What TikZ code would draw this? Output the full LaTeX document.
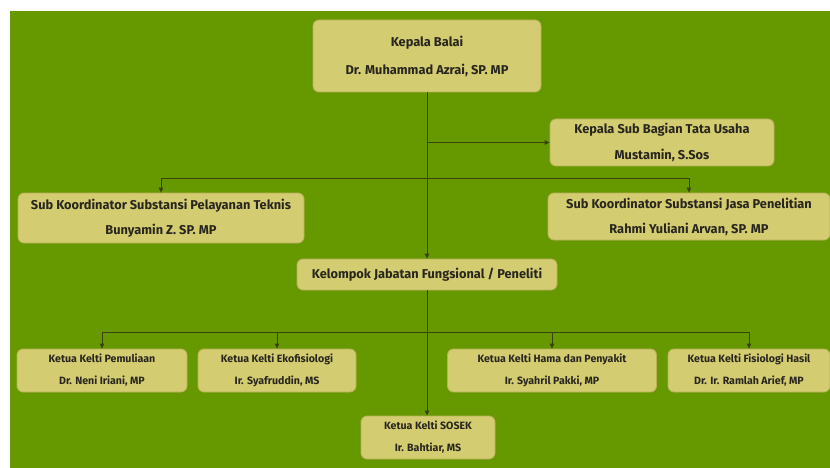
\documentclass[tikz,border=0pt]{standalone}
\usepackage{fontspec}
\setmainfont{Fira Sans}
\usetikzlibrary{arrows.meta}
\definecolor{bg}{RGB}{102,152,0}
\definecolor{boxfill}{RGB}{212,204,112}
\definecolor{boxline}{RGB}{186,176,92}
\definecolor{conn}{RGB}{58,66,12}
\definecolor{txt}{RGB}{40,38,30}
\tikzset{
  orgbox/.style={draw=boxline, line width=0.8pt, fill=boxfill, rounded corners=6pt,
    align=center, inner sep=0pt, text=txt, font=\fontsize{12.8}{15}\selectfont\bfseries},
  keltibox/.style={orgbox, font=\fontsize{10.6}{12.5}\selectfont\bfseries},
  link/.style={draw=conn, line width=0.9pt, -{Triangle[length=5pt,width=4.5pt]}}
}
\begin{document}
\begin{tikzpicture}[x=1pt,y=-1pt]
\useasboundingbox (0,0) rectangle (830,468);
\fill[white] (0,0) rectangle (830,468);
\fill[bg] (10,11) rectangle (830,468);

\node[orgbox, minimum width=228pt, minimum height=72pt] (kb) at (427,56) {Kepala Balai\\[13pt]Dr. Muhammad Azrai, SP. MP};
\node[orgbox, minimum width=224pt, minimum height=47pt] (ksb) at (662,142.5) {Kepala Sub Bagian Tata Usaha\\[11pt]Mustamin, S.Sos};
\node[orgbox, minimum width=286pt, minimum height=50pt] (skp) at (161,218) {Sub Koordinator Substansi Pelayanan Teknis\\[10pt]Bunyamin Z. SP. MP};
\node[orgbox, minimum width=282pt, minimum height=47pt] (skj) at (689,216.5) {Sub Koordinator Substansi Jasa Penelitian\\[10pt]Rahmi Yuliani Arvan, SP. MP};
\node[orgbox, minimum width=260pt, minimum height=31pt] (kjf) at (427,274.5) {Kelompok Jabatan Fungsional / Peneliti};

\node[keltibox, minimum width=170pt, minimum height=43pt] (pem) at (102,370.5) {Ketua Kelti Pemuliaan\\[9.5pt]Dr. Neni Iriani, MP};
\node[keltibox, minimum width=158pt, minimum height=43pt] (eko) at (277,370.5) {Ketua Kelti Ekofisiologi\\[9.5pt]Ir. Syafruddin, MS};
\node[keltibox, minimum width=209pt, minimum height=43pt] (hama) at (552,370.5) {Ketua Kelti Hama dan Penyakit\\[9.5pt]Ir. Syahril Pakki, MP};
\node[keltibox, minimum width=162pt, minimum height=43pt] (fis) at (749,370.5) {Ketua Kelti Fisiologi Hasil\\[9.5pt]Dr. Ir. Ramlah Arief, MP};
\node[keltibox, minimum width=134pt, minimum height=43pt] (sosek) at (428,437.5) {Ketua Kelti SOSEK\\[9.5pt]Ir. Bahtiar, MS};

\coordinate (j1) at (427,178);
\coordinate (j2) at (427,332);

\draw[link] (kb.south) -- (kjf.north);
\draw[link] (kb.south |- ksb.west) -- (ksb.west);
\draw[link] (j1) -| (skp.north);
\draw[link] (j1) -| (skj.north);
\draw[link] (kjf.south) -- (kjf.south |- sosek.north);
\draw[link] (j2) -| (pem.north);
\draw[link] (j2) -| (eko.north);
\draw[link] (j2) -| (hama.north);
\draw[link] (j2) -| (fis.north);
\end{tikzpicture}
\end{document}
